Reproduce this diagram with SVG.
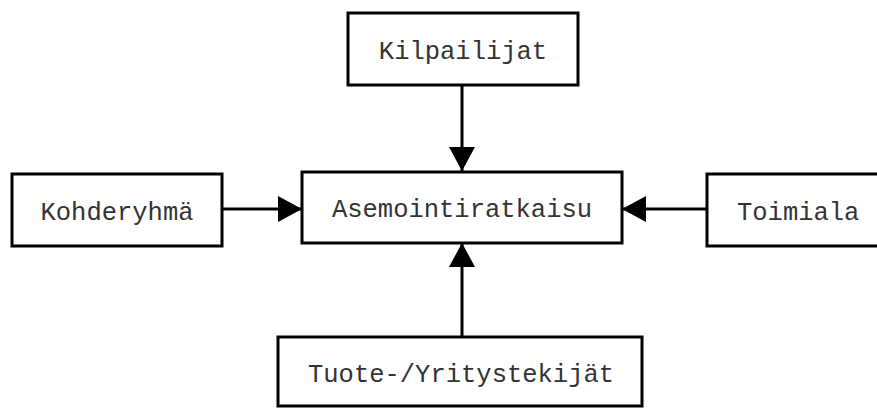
<svg xmlns="http://www.w3.org/2000/svg" width="877" height="408" viewBox="0 0 877 408">
<style>
.box{fill:#fff;stroke:#000;stroke-width:3}
.lbl{font-family:"Liberation Mono","Courier New",monospace;font-size:25.5px;fill:#333}
.con{stroke:#000;stroke-width:3;fill:none}
</style>
<defs>
<marker id="ah" markerUnits="userSpaceOnUse" markerWidth="26" markerHeight="26" viewBox="0 0 24 26" refX="24" refY="13" orient="auto">
<path d="M0,0 L24,13 L0,26 Z" fill="#000"/>
</marker>
</defs>
<rect width="877" height="408" fill="#fff"/>
<g id="connectors">
<line class="con" x1="462" y1="86" x2="462" y2="171" marker-end="url(#ah)"/>
<line class="con" x1="223" y1="209" x2="302" y2="209" marker-end="url(#ah)"/>
<line class="con" x1="707" y1="209" x2="622" y2="209" marker-end="url(#ah)"/>
<line class="con" x1="462" y1="337" x2="462" y2="243" marker-end="url(#ah)"/>
</g>
<g id="kilpailijat">
<rect class="box" x="348" y="13" width="230" height="72"/>
<text class="lbl" x="463" y="59" text-anchor="middle">Kilpailijat</text>
</g>
<g id="kohderyhma">
<rect class="box" x="12" y="174" width="210" height="72"/>
<text class="lbl" x="117" y="220" text-anchor="middle">Kohderyhmä</text>
</g>
<g id="asemointiratkaisu">
<rect class="box" x="302" y="172" width="320" height="71"/>
<text class="lbl" x="462" y="217" text-anchor="middle">Asemointiratkaisu</text>
</g>
<g id="toimiala">
<rect class="box" x="707" y="174" width="180" height="72"/>
<text class="lbl" x="737" y="220">Toimiala</text>
</g>
<g id="tuote">
<rect class="box" x="278" y="337" width="364" height="69"/>
<text class="lbl" x="308" y="382">Tuote-/Yritystekijät</text>
</g>
</svg>
